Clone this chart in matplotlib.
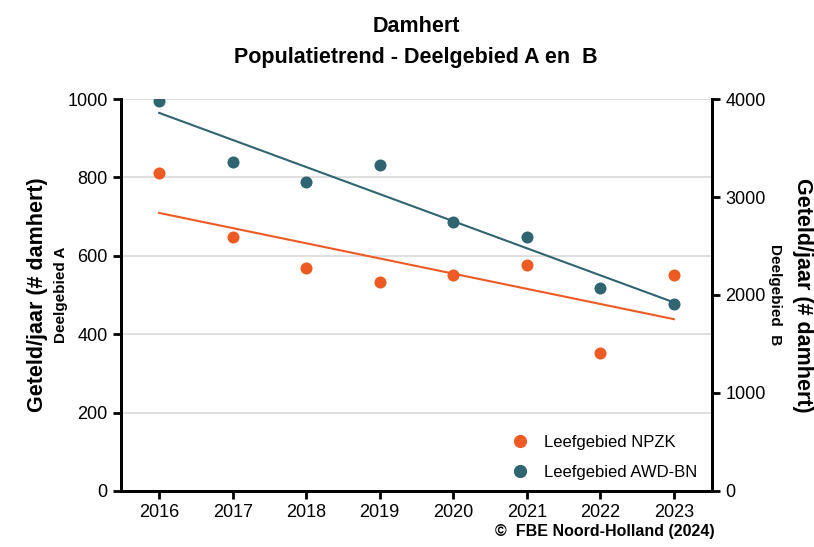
import numpy as np
import matplotlib
matplotlib.use("Agg")
import matplotlib.pyplot as plt
from matplotlib.lines import Line2D

plt.rcParams['font.family'] = ['Liberation Sans', 'DejaVu Sans']

years = [2016, 2017, 2018, 2019, 2020, 2021, 2022, 2023]
npzk = [810, 648, 569, 533, 551, 577, 352, 551]          # Deelgebied A (left axis)
awd_bn = [3980, 3357, 3153, 3327, 2745, 2592, 2071, 1908]  # Deelgebied B (right axis)

c_orange = '#EE5A24'
c_teal = '#2F6471'

fig = plt.figure(figsize=(8.14, 5.47), dpi=100)
ax = fig.add_axes([0.1486, 0.1024, 0.7261, 0.7166])
ax2 = ax.twinx()

x = np.array(years)

# points + linear trend, A on left
ax.scatter(years, npzk, s=75, color=c_orange, zorder=3, linewidths=0)
k, b = np.polyfit(x, npzk, 1)
ax.plot([x[0], x[-1]], [k * x[0] + b, k * x[-1] + b], color=c_orange, lw=1.5)

# B on right
ax2.scatter(years, awd_bn, s=75, color=c_teal, zorder=3, linewidths=0)
k2, b2 = np.polyfit(x, awd_bn, 1)
ax2.plot([x[0], x[-1]], [k2 * x[0] + b2, k2 * x[-1] + b2], color=c_teal, lw=1.5)

ax.set_xlim(2015.48, 2023.52)
ax.set_ylim(0, 1000)
ax2.set_ylim(0, 4000)
ax.set_xticks(years)
ax.set_yticks(range(0, 1001, 200))
ax2.set_yticks(range(0, 4001, 1000))

ax.yaxis.grid(True, color='#d9d9d9', lw=1.2)
ax.set_axisbelow(True)

for a in (ax, ax2):
    a.spines['top'].set_visible(False)
    for s in ('left', 'right', 'bottom'):
        a.spines[s].set_linewidth(2)
        a.spines[s].set_color('black')
    a.tick_params(width=2, length=6, labelsize=13, direction='out')

# axis labels, placed by hand
ax.text(-0.142, 0.5, 'Geteld/jaar (# damhert)', transform=ax.transAxes, rotation=90,
        fontsize=15.5, fontweight='bold', ha='center', va='center')
ax.text(-0.101, 0.5, 'Deelgebied A', transform=ax.transAxes, rotation=90,
        fontsize=11, fontweight='bold', ha='center', va='center')
ax.text(1.153, 0.5, 'Geteld/jaar (# damhert)', transform=ax.transAxes, rotation=270,
        fontsize=15.5, fontweight='bold', ha='center', va='center')
ax.text(1.107, 0.5, 'Deelgebied  B', transform=ax.transAxes, rotation=270,
        fontsize=11, fontweight='bold', ha='center', va='center')

fig.text(0.511, 0.952, 'Damhert', ha='center', va='center', fontsize=15.5, fontweight='bold')
fig.text(0.511, 0.894, 'Populatietrend - Deelgebied A en  B', ha='center', va='center',
         fontsize=15.5, fontweight='bold')
fig.text(0.878, 0.014, '\u00a9  FBE Noord-Holland (2024)', ha='right', va='bottom',
         fontsize=11.5, fontweight='bold')

handles = [Line2D([], [], marker='o', ls='', color=c_orange, markersize=8.5),
           Line2D([], [], marker='o', ls='', color=c_teal, markersize=8.5)]
ax2.legend(handles, ['Leefgebied NPZK', 'Leefgebied AWD-BN'], loc='lower right',
           frameon=False, fontsize=12, labelspacing=0.9, handletextpad=0.4,
           bbox_to_anchor=(1.0, -0.01))

fig.savefig('out.png', dpi=100)
